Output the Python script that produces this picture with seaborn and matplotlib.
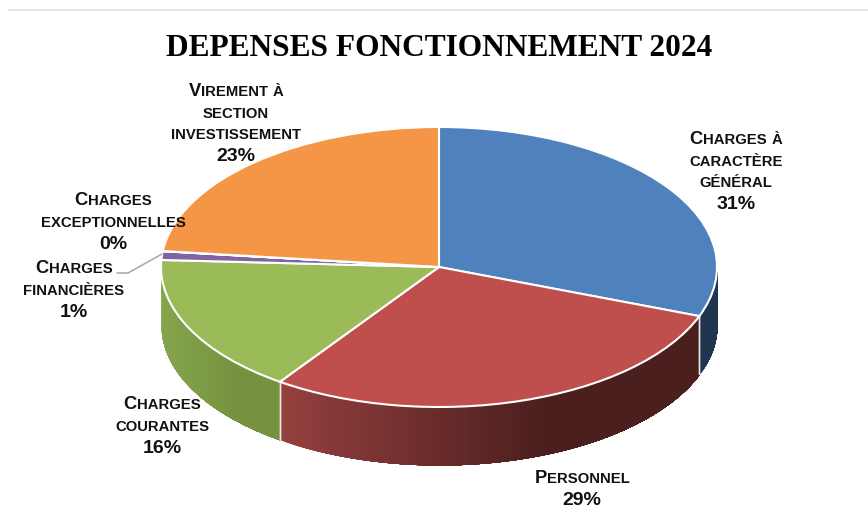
import numpy as np
import matplotlib
matplotlib.use("Agg")
import matplotlib.pyplot as plt
from matplotlib.colors import to_rgb
from matplotlib.lines import Line2D
import seaborn as sns

# ---- data ----
categories = ["Charges à caractère général", "Personnel", "Charges courantes",
              "Charges financières", "Charges exceptionnelles",
              "Virement à section investissement"]
values = [30.7, 29.0, 16.1, 1.0, 0.02, 23.18]
colors = ["#4F81BD", "#BF4F4C", "#9BBB59", "#8064A2", "#4BACC6", "#F49646"]
side_left = ["#1F3550", "#94403E", "#86A44D", "#5F4A79", "#38808F", "#B86F34"]
side_right = ["#1F3550", "#4B1F1E", "#76923F", "#5F4A79", "#38808F", "#B86F34"]
title = "DEPENSES FONCTIONNEMENT 2024"

W, H = 868, 521
CX0, CX1, CY0, CY1 = 161, 717, 127, 407   # top ellipse box in px
DEPTH = 58 / 140

sns.set_theme(style="white")
plt.rcParams["font.family"] = ["Liberation Sans", "DejaVu Sans"]

fig = plt.figure(figsize=(W / 100, H / 100), dpi=100, facecolor="white")
ax = fig.add_axes([CX0 / W, 1 - CY1 / H, (CX1 - CX0) / W, (CY1 - CY0) / H])

# side wall of the disc: strips painted left to right, each reaching the slice end
pal = sns.color_palette(colors)
start = 90.0
total = sum(values)
for v, cl, cr in zip(values, side_left, side_right):
    end = start - v / total * 360
    lo, hi = np.radians(end), np.radians(start)
    a0 = max(lo, np.radians(-180)) if end < 0 else None
    if a0 is not None and min(hi, 0) > a0:
        a1 = min(hi, 0.0)
        edges = np.linspace(a0, a1, 90)
        span = max(np.cos(a1) - np.cos(a0), 1e-6)
        for i in range(len(edges) - 1):
            seg = np.linspace(edges[i], a1, 120)
            f = (np.cos(edges[i]) - np.cos(a0)) / span
            f = min(f / 0.62, 1.0)
            col = tuple((1 - f) * np.array(to_rgb(cl)) + f * np.array(to_rgb(cr)))
            ax.fill_between(np.cos(seg), np.sin(seg), np.sin(seg) - DEPTH,
                            color=col, lw=0, clip_on=False, zorder=1)
        for a in (a0, a1):
            if -np.pi < a < 0:
                ax.plot([np.cos(a)] * 2, [np.sin(a), np.sin(a) - DEPTH],
                        color="#E8E8E8", lw=1.0, clip_on=False, zorder=2)
    start = end

# top face
ax.pie(values, colors=pal, startangle=90, counterclock=False, radius=1,
       wedgeprops=dict(edgecolor="white", linewidth=1.5, clip_on=False, zorder=3))
ax.set_aspect("auto")
ax.set_xlim(-1, 1)
ax.set_ylim(-1, 1)
ax.axis("off")

# top grey rule
fig.add_artist(Line2D([9 / W, 1], [1 - 10 / H] * 2, color="#E2E2E2", lw=1.2))
# leader line
fig.add_artist(Line2D([117 / W, 128 / W, 162 / W],
                      [1 - 273 / H, 1 - 273 / H, 1 - 254 / H],
                      color="#A6A6A6", lw=1.1, zorder=2))

fig.text(439 / W, 1 - 56 / H, title, ha="center", va="baseline", color="black",
         family="Liberation Serif", fontweight="bold", fontsize=22.6)

renderer = fig.canvas.get_renderer()
BIG, SMALL, PCT = 13.2, 10.7, 14.0


def small_caps(line, cx, base):
    """Centre a line of small caps: capitals big, lower case as small capitals."""
    runs = []
    for ch in line:
        big = ch.isupper() or not ch.isalpha()
        if runs and runs[-1][1] == big:
            runs[-1][0] += ch
        else:
            runs.append([ch, big])
    items = []
    for s, big in runs:
        t = fig.text(0, 1 - base / H, s if big else s.upper(), ha="left", va="baseline",
                     fontweight="bold", color="#111111", fontsize=BIG if big else SMALL)
        tw, _, _ = renderer.get_text_width_height_descent(
            "|" + t.get_text() + "|", t.get_fontproperties(), False)
        bw, _, _ = renderer.get_text_width_height_descent(
            "||", t.get_fontproperties(), False)
        items.append((t, tw - bw))
    x = cx - sum(w for _, w in items) / 2
    for t, w in items:
        t.set_x(x / W)
        x += w


labels = [
    (0, 736, ["Charges à", "caractère", "général"], 138),
    (1, 582, ["Personnel"], 477),
    (2, 162, ["Charges", "courantes"], 403),
    (3, 74, ["Charges", "financières"], 267),
    (4, 113, ["Charges", "exceptionnelles"], 199),
    (5, 236, ["Virement à", "section", "investissement"], 90),
]
STEP = 21.6
for idx, cx, lines, y0 in labels:
    for j, ln in enumerate(lines):
        small_caps(ln, cx, y0 + j * STEP + 6)
    fig.text(cx / W, 1 - (y0 + len(lines) * STEP + 6.5) / H, f"{values[idx]:.0f}%",
             ha="center", va="baseline", fontweight="bold", color="#111111", fontsize=PCT)

fig.savefig("out.png", dpi=100, facecolor="white")
